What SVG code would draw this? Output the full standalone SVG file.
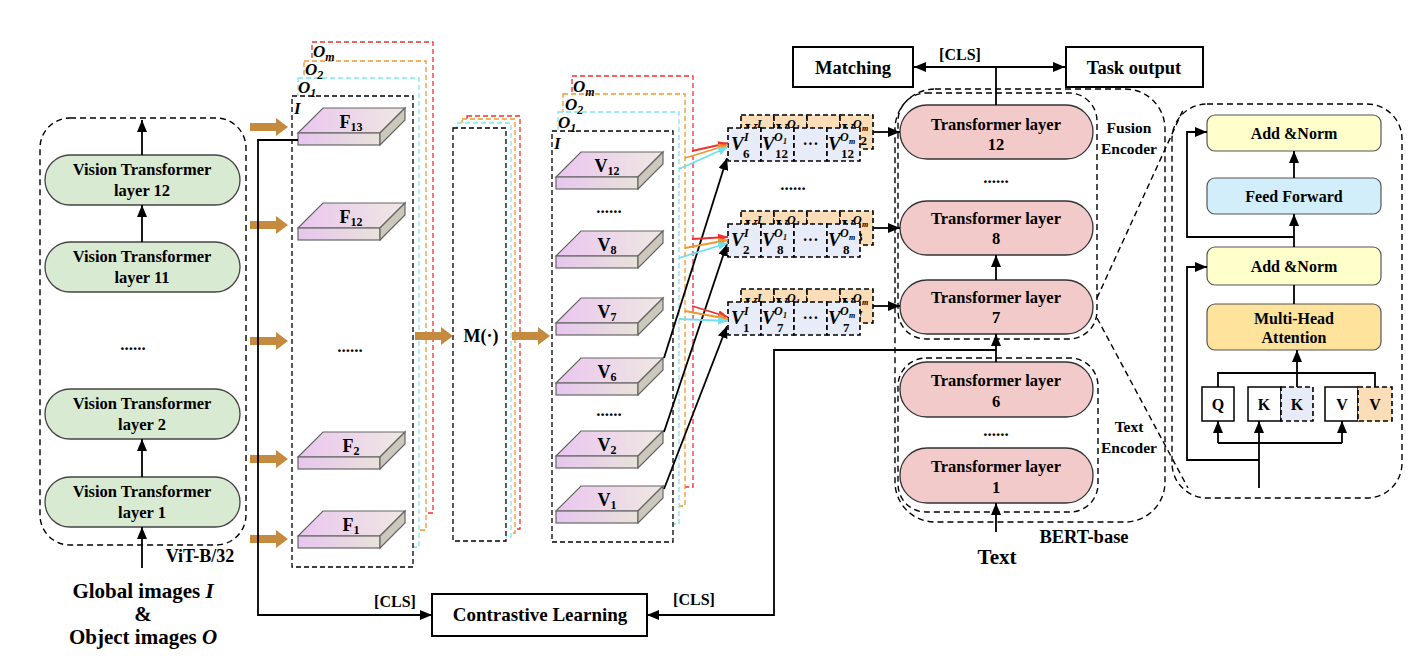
<svg xmlns="http://www.w3.org/2000/svg" xmlns:xlink="http://www.w3.org/1999/xlink" width="1420" height="660" viewBox="0 0 1420 660">
<style>
.t{font-family:"Liberation Serif","Times New Roman",serif;font-weight:bold;fill:#000;text-anchor:middle}
.ti{font-family:"Liberation Serif","Times New Roman",serif;font-weight:bold;font-style:italic;fill:#000}
.dash{fill:none;stroke:#000;stroke-width:1.4;stroke-dasharray:6 4}
.dR{fill:#fff;stroke:#F03030;stroke-width:1.3;stroke-dasharray:5 3}
.dO{fill:#fff;stroke:#F0962E;stroke-width:1.3;stroke-dasharray:5 3}
.dC{fill:#fff;stroke:#80E4F4;stroke-width:1.3;stroke-dasharray:5 3}
.dK{fill:#fff;stroke:#000;stroke-width:1.3;stroke-dasharray:5 3}
.green{fill:#D9EAD3;stroke:#444;stroke-width:1.3}
.pink{fill:#F2CACA;stroke:#333;stroke-width:1.3}
.box{fill:#fff;stroke:#000;stroke-width:2}
.ln{fill:none;stroke:#000;stroke-width:1.8}
.brown{fill:#C58A3E}
.peach{fill:#FBDDB8;stroke:#000;stroke-width:1.6;stroke-dasharray:5 3}
.lav{fill:#E8ECF8;stroke:#000;stroke-width:1.6;stroke-dasharray:5 3}
.tv{font-family:"Liberation Serif",serif;font-weight:bold;font-style:italic;font-size:19px}
.tsup{font-family:"Liberation Serif",serif;font-weight:bold;font-style:italic;font-size:12px}
.tsup2{font-family:"Liberation Serif",serif;font-weight:bold;font-style:italic;font-size:8px}
.tsub{font-family:"Liberation Serif",serif;font-weight:bold;font-size:13px}
.tdots{font-family:"Liberation Serif",serif;font-weight:bold;font-size:16px;text-anchor:middle}
.det{fill:#FFFFCC;stroke:#555;stroke-width:1.2}
</style>
<defs>
<marker id="ah" markerUnits="userSpaceOnUse" markerWidth="12" markerHeight="10" viewBox="0 0 12 10" refX="12" refY="5" orient="auto"><path d="M0,0 L12,5 L0,10 z" fill="#000"/></marker>
<marker id="aR" markerUnits="userSpaceOnUse" markerWidth="10" markerHeight="8" viewBox="0 0 10 8" refX="10" refY="4" orient="auto"><path d="M0,0 L10,4 L0,8 z" fill="#F03030"/></marker>
<marker id="aO" markerUnits="userSpaceOnUse" markerWidth="10" markerHeight="8" viewBox="0 0 10 8" refX="10" refY="4" orient="auto"><path d="M0,0 L10,4 L0,8 z" fill="#F0962E"/></marker>
<marker id="aC" markerUnits="userSpaceOnUse" markerWidth="10" markerHeight="8" viewBox="0 0 10 8" refX="10" refY="4" orient="auto"><path d="M0,0 L10,4 L0,8 z" fill="#6FE0F2"/></marker>
<linearGradient id="gTop" x1="0" y1="0" x2="1" y2="0"><stop offset="0" stop-color="#EAC6EF"/><stop offset="1" stop-color="#EEE8E2"/></linearGradient>
<linearGradient id="gFront" x1="0" y1="0" x2="1" y2="0"><stop offset="0" stop-color="#E6C6EE"/><stop offset="1" stop-color="#E9E2DA"/></linearGradient>
<g id="slab">
<polygon points="0,0 25,-25 107,-25 82,0" fill="url(#gTop)" stroke="#666" stroke-width="1.2"/>
<rect x="0" y="0" width="82" height="12" fill="url(#gFront)" stroke="#666" stroke-width="1.2"/>
<polygon points="82,0 107,-25 107,-13 82,12" fill="#CCC8BC" stroke="#666" stroke-width="1.2"/>
</g>
<path id="barrow" d="M0,-4 H26 V-9 L38,0 L26,9 V4 H0 z"/>
<g id="c6">
<text class="tv" x="3" y="22">V</text><text class="tsup" x="16" y="13">I</text><text class="tsub" x="15" y="30">6</text>
<text class="tv" x="34" y="22">V</text><text class="tsup" x="46" y="13">O</text><text class="tsup2" x="55" y="16">1</text><text class="tsub" x="47" y="30">12</text>
<text class="tdots" x="82.5" y="21">···</text>
<text class="tv" x="100" y="22">V</text><text class="tsup" x="112" y="13">O</text><text class="tsup2" x="121" y="16">m</text><text class="tsub" x="113" y="30">12</text>
</g>
<g id="c2">
<text class="tv" x="3" y="22">V</text><text class="tsup" x="16" y="13">I</text><text class="tsub" x="15" y="30">2</text>
<text class="tv" x="34" y="22">V</text><text class="tsup" x="46" y="13">O</text><text class="tsup2" x="55" y="16">1</text><text class="tsub" x="49" y="30">8</text>
<text class="tdots" x="82.5" y="21">···</text>
<text class="tv" x="100" y="22">V</text><text class="tsup" x="112" y="13">O</text><text class="tsup2" x="121" y="16">m</text><text class="tsub" x="115" y="30">8</text>
</g>
<g id="c1">
<text class="tv" x="3" y="22">V</text><text class="tsup" x="16" y="13">I</text><text class="tsub" x="15" y="30">1</text>
<text class="tv" x="34" y="22">V</text><text class="tsup" x="46" y="13">O</text><text class="tsup2" x="55" y="16">1</text><text class="tsub" x="49" y="30">7</text>
<text class="tdots" x="82.5" y="21">···</text>
<text class="tv" x="100" y="22">V</text><text class="tsup" x="112" y="13">O</text><text class="tsup2" x="121" y="16">m</text><text class="tsub" x="115" y="30">7</text>
</g>
<g id="cellsBack">
<rect class="peach" x="0" y="0" width="33" height="34"/><rect class="peach" x="33" y="0" width="33" height="34"/><rect class="peach" x="66" y="0" width="33" height="34"/><rect class="peach" x="99" y="0" width="33" height="34"/>
</g>
<g id="cellsFront">
<rect class="lav" x="0" y="0" width="33" height="33"/><rect class="lav" x="33" y="0" width="33" height="33"/><rect class="lav" x="66" y="0" width="33" height="33"/><rect class="lav" x="99" y="0" width="33" height="33"/>
</g>
</defs>
<rect width="1420" height="660" fill="#fff"/>

<!-- ViT encoder -->
<g id="vit">
<rect class="dash" x="40" y="118" width="206" height="427" rx="30"/>
<rect class="green" x="45" y="155" width="195" height="50" rx="25"/>
<text class="t" x="142" y="175" font-size="16.5">Vision Transformer</text>
<text class="t" x="142" y="196" font-size="16.5">layer 12</text>
<rect class="green" x="45" y="242" width="195" height="50" rx="25"/>
<text class="t" x="142" y="262" font-size="16.5">Vision Transformer</text>
<text class="t" x="142" y="283" font-size="16.5">layer 11</text>
<text class="t" x="133" y="350" font-size="17">......</text>
<rect class="green" x="45" y="389" width="195" height="50" rx="25"/>
<text class="t" x="142" y="409" font-size="16.5">Vision Transformer</text>
<text class="t" x="142" y="430" font-size="16.5">layer 2</text>
<rect class="green" x="45" y="477" width="195" height="50" rx="25"/>
<text class="t" x="142" y="497" font-size="16.5">Vision Transformer</text>
<text class="t" x="142" y="518" font-size="16.5">layer 1</text>
<text class="t" x="200" y="562" font-size="18">ViT-B/32</text>
</g>
<g id="input-labels">
<text class="t" x="143" y="598" font-size="21">Global images <tspan font-style="italic">I</tspan></text>
<text class="t" x="143" y="621" font-size="21">&amp;</text>
<text class="t" x="143" y="644" font-size="21">Object images <tspan font-style="italic">O</tspan></text>
</g>

<!-- F stack -->
<g id="f-stack">
<rect class="dR" x="312" y="42" width="121" height="471"/>
<rect class="dO" x="304" y="61" width="122" height="469"/>
<rect class="dC" x="298" y="78" width="121" height="469"/>
<rect class="dK" x="292" y="96" width="121" height="471"/>
<text class="ti" x="313" y="57" font-size="17">O<tspan font-size="12" dy="4">m</tspan></text>
<text class="ti" x="305" y="75" font-size="17">O<tspan font-size="12" dy="4">2</tspan></text>
<text class="ti" x="298" y="93" font-size="17">O<tspan font-size="12" dy="4">1</tspan></text>
<text class="ti" x="294" y="114" font-size="17">I</text>
<use xlink:href="#slab" x="298" y="133"/>
<text class="t" x="351" y="128" font-size="18">F<tspan font-size="12" dy="3">13</tspan></text>
<use xlink:href="#slab" x="298" y="228"/>
<text class="t" x="351" y="223" font-size="18">F<tspan font-size="12" dy="3">12</tspan></text>
<text class="t" x="350" y="352" font-size="17">......</text>
<use xlink:href="#slab" x="298" y="457"/>
<text class="t" x="351" y="452" font-size="18">F<tspan font-size="12" dy="3">2</tspan></text>
<use xlink:href="#slab" x="298" y="536"/>
<text class="t" x="351" y="531" font-size="18">F<tspan font-size="12" dy="3">1</tspan></text>
</g>

<!-- M stack -->
<g id="m-stack">
<rect class="dR" x="467" y="116" width="53" height="413"/>
<rect class="dO" x="462" y="119" width="53" height="414"/>
<rect class="dC" x="457" y="123" width="54" height="414"/>
<rect class="dK" x="453" y="128" width="53" height="413"/>
<text class="t" x="481" y="342" font-size="18">M(·)</text>
</g>

<!-- V stack -->
<g id="v-stack">
<rect class="dR" x="572" y="76" width="121" height="411"/>
<rect class="dO" x="563" y="94" width="122" height="412"/>
<rect class="dC" x="558" y="112" width="121" height="412"/>
<rect class="dK" x="552" y="131" width="121" height="411"/>
<text class="ti" x="573" y="92" font-size="17">O<tspan font-size="12" dy="4">m</tspan></text>
<text class="ti" x="565" y="110" font-size="17">O<tspan font-size="12" dy="4">2</tspan></text>
<text class="ti" x="558" y="128" font-size="17">O<tspan font-size="12" dy="4">1</tspan></text>
<text class="ti" x="554" y="149" font-size="17">I</text>
<use xlink:href="#slab" x="556" y="177"/>
<text class="t" x="607" y="172" font-size="18">V<tspan font-size="12" dy="3">12</tspan></text>
<text class="t" x="609" y="213" font-size="17">......</text>
<use xlink:href="#slab" x="556" y="256"/>
<text class="t" x="607" y="251" font-size="18">V<tspan font-size="12" dy="3">8</tspan></text>
<use xlink:href="#slab" x="556" y="323"/>
<text class="t" x="607" y="318" font-size="18">V<tspan font-size="12" dy="3">7</tspan></text>
<use xlink:href="#slab" x="556" y="383"/>
<text class="t" x="607" y="378" font-size="18">V<tspan font-size="12" dy="3">6</tspan></text>
<text class="t" x="609" y="416" font-size="17">......</text>
<use xlink:href="#slab" x="556" y="456"/>
<text class="t" x="607" y="451" font-size="18">V<tspan font-size="12" dy="3">2</tspan></text>
<use xlink:href="#slab" x="556" y="511"/>
<text class="t" x="607" y="506" font-size="18">V<tspan font-size="12" dy="3">1</tspan></text>
</g>

<!-- token rows -->
<g id="tokens-6">
<use xlink:href="#cellsBack" x="741" y="115"/><use xlink:href="#c6" x="741" y="115"/>
<use xlink:href="#cellsFront" x="728" y="128"/><use xlink:href="#c6" x="728" y="128"/>
</g>
<text class="t" x="793" y="190" font-size="17">......</text>
<g id="tokens-2">
<use xlink:href="#cellsBack" x="741" y="211"/><use xlink:href="#c2" x="741" y="211"/>
<use xlink:href="#cellsFront" x="728" y="224"/><use xlink:href="#c2" x="728" y="224"/>
</g>
<g id="tokens-1">
<use xlink:href="#cellsBack" x="741" y="289"/><use xlink:href="#c1" x="741" y="289"/>
<use xlink:href="#cellsFront" x="728" y="302"/><use xlink:href="#c1" x="728" y="302"/>
</g>

<!-- BERT -->
<g id="bert">
<rect class="dash" x="895" y="89" width="270" height="433" rx="40"/>
<rect class="dash" x="898" y="93" width="199" height="246" rx="28"/>
<rect class="dash" x="898" y="358" width="200" height="154" rx="28"/>
<text class="t" x="1129" y="133" font-size="15.5">Fusion</text>
<text class="t" x="1129" y="154" font-size="15.5">Encoder</text>
<text class="t" x="1129" y="432" font-size="15.5">Text</text>
<text class="t" x="1129" y="453" font-size="15.5">Encoder</text>
<text class="t" x="1084" y="543" font-size="18.5">BERT-base</text>
</g>
<g id="tl12"><rect class="pink" x="900" y="105" width="193" height="54" rx="27"/>
<text class="t" x="996" y="130" font-size="16.5">Transformer layer</text><text class="t" x="996" y="150" font-size="16.5">12</text></g>
<text class="t" x="996" y="183" font-size="17">......</text>
<g id="tl8"><rect class="pink" x="900" y="201" width="193" height="54" rx="27"/>
<text class="t" x="996" y="224" font-size="16.5">Transformer layer</text><text class="t" x="996" y="244" font-size="16.5">8</text></g>
<g id="tl7"><rect class="pink" x="900" y="280" width="193" height="54" rx="27"/>
<text class="t" x="996" y="303" font-size="16.5">Transformer layer</text><text class="t" x="996" y="323" font-size="16.5">7</text></g>
<g id="tl6"><rect class="pink" x="900" y="362" width="193" height="55" rx="27"/>
<text class="t" x="996" y="386" font-size="16.5">Transformer layer</text><text class="t" x="996" y="407" font-size="16.5">6</text></g>
<text class="t" x="996" y="436" font-size="17">......</text>
<g id="tl1"><rect class="pink" x="900" y="448" width="193" height="55" rx="27"/>
<text class="t" x="996" y="472" font-size="16.5">Transformer layer</text><text class="t" x="996" y="493" font-size="16.5">1</text></g>
<text class="t" x="997" y="564" font-size="21">Text</text>

<g id="matching"><rect class="box" x="793" y="47" width="120" height="40"/><text class="t" x="853" y="74" font-size="18.5">Matching</text></g>
<g id="task"><rect class="box" x="1066" y="47" width="137" height="40"/><text class="t" x="1134" y="74" font-size="18.5">Task output</text></g>
<g id="contrastive"><rect class="box" x="432" y="594" width="215" height="42"/><text class="t" x="540" y="621" font-size="19">Contrastive Learning</text></g>

<!-- detail transformer -->
<g id="detail">
<rect class="dash" x="1172" y="104" width="230" height="394" rx="35"/>
<rect class="det" x="1207" y="115" width="174" height="36" rx="8"/>
<text class="t" x="1294" y="139" font-size="16">Add &amp;Norm</text>
<rect x="1207" y="178" width="174" height="36" rx="8" fill="#D2EEFB" stroke="#555" stroke-width="1.2"/>
<text class="t" x="1294" y="202" font-size="16">Feed Forward</text>
<rect class="det" x="1207" y="247" width="174" height="38" rx="8"/>
<text class="t" x="1294" y="272" font-size="16">Add &amp;Norm</text>
<rect x="1207" y="304" width="174" height="46" rx="8" fill="#FDE39B" stroke="#555" stroke-width="1.2"/>
<text class="t" x="1294" y="324" font-size="16">Multi-Head</text>
<text class="t" x="1294" y="343" font-size="16">Attention</text>
<rect x="1202" y="387" width="32" height="34" fill="#fff" stroke="#000" stroke-width="1.5"/>
<text class="t" x="1218" y="410" font-size="16">Q</text>
<rect x="1248" y="387" width="33" height="34" fill="#fff" stroke="#000" stroke-width="1.5"/>
<text class="t" x="1264" y="410" font-size="16">K</text>
<rect class="lav" x="1281" y="387" width="32" height="34"/>
<text class="t" x="1297" y="410" font-size="16">K</text>
<rect x="1325" y="387" width="33" height="34" fill="#fff" stroke="#000" stroke-width="1.5"/>
<text class="t" x="1342" y="410" font-size="16">V</text>
<rect class="peach" x="1358" y="387" width="34" height="34"/>
<text class="t" x="1375" y="410" font-size="16">V</text>
</g>

<!-- connectors -->
<g id="connectors">
<g class="brown">
<use xlink:href="#barrow" x="250" y="127"/>
<use xlink:href="#barrow" x="250" y="225"/>
<use xlink:href="#barrow" x="250" y="341"/>
<use xlink:href="#barrow" x="250" y="459"/>
<use xlink:href="#barrow" x="250" y="539"/>
<use xlink:href="#barrow" x="415" y="336"/>
<use xlink:href="#barrow" x="512" y="336"/>
</g>
<path class="ln" d="M142,155 V120" marker-end="url(#ah)"/>
<path class="ln" d="M142,242 V205" marker-end="url(#ah)"/>
<path class="ln" d="M142,477 V439" marker-end="url(#ah)"/>
<path class="ln" d="M142,568 V527" marker-end="url(#ah)"/>
<path class="ln" d="M298,140 H258 V615 H432" marker-end="url(#ah)"/>
<text class="t" x="395" y="607" font-size="16">[CLS]</text>
<path class="ln" d="M996,350 H774 V615 H647" marker-end="url(#ah)"/>
<text class="t" x="694" y="605" font-size="16">[CLS]</text>
<path class="ln" d="M664,358 L727,158" marker-end="url(#ah)"/>
<path class="ln" d="M664,432 L727,244" marker-end="url(#ah)"/>
<path class="ln" d="M664,489 L727,326" marker-end="url(#ah)"/>
<g fill="none" stroke-width="1.8">
<path d="M692,151 L728,143" stroke="#F03030" marker-end="url(#aR)"/>
<path d="M685,158 L728,145" stroke="#F0962E" marker-end="url(#aO)"/>
<path d="M679,169 L728,147" stroke="#6FE0F2" marker-end="url(#aC)"/>
<path d="M692,239 L728,237" stroke="#F03030" marker-end="url(#aR)"/>
<path d="M685,248 L728,240" stroke="#F0962E" marker-end="url(#aO)"/>
<path d="M679,258 L728,243" stroke="#6FE0F2" marker-end="url(#aC)"/>
<path d="M692,306 L728,317" stroke="#F03030" marker-end="url(#aR)"/>
<path d="M685,311 L728,319" stroke="#F0962E" marker-end="url(#aO)"/>
<path d="M679,319 L728,321" stroke="#6FE0F2" marker-end="url(#aC)"/>
</g>
<path class="ln" d="M873,132 H900" marker-end="url(#ah)"/>
<path class="ln" d="M873,228 H900" marker-end="url(#ah)"/>
<path class="ln" d="M873,306 H900" marker-end="url(#ah)"/>
<path class="ln" d="M996,280 V255" marker-end="url(#ah)"/>
<path class="ln" d="M996,362 V334" marker-end="url(#ah)"/>
<path class="ln" d="M996,532 V503" marker-end="url(#ah)"/>
<path class="ln" d="M996,105 V67"/>
<path class="ln" d="M996,67 H914" marker-end="url(#ah)"/>
<path class="ln" d="M996,67 H1065" marker-end="url(#ah)"/>
<text class="t" x="960" y="60" font-size="16">[CLS]</text>
<path class="dash" d="M1097,298 L1183,110"/>
<path class="dash" d="M1097,318 L1188,488"/>
<path class="ln" d="M1294,304 V285"/>
<path class="ln" d="M1294,247 V214" marker-end="url(#ah)"/>
<path class="ln" d="M1294,178 V151" marker-end="url(#ah)"/>
<path class="ln" d="M1294,237 H1187 V132 H1207" marker-end="url(#ah)"/>
<path class="ln" d="M1218,387 V373 H1375 V387"/>
<path class="ln" d="M1297,387 V350" marker-end="url(#ah)"/>
<path class="ln" d="M1259,488 V421" marker-end="url(#ah)"/>
<path class="ln" d="M1218,443 H1342"/>
<path class="ln" d="M1218,443 V421" marker-end="url(#ah)"/>
<path class="ln" d="M1342,443 V421" marker-end="url(#ah)"/>
<path class="ln" d="M1259,460 H1187 V267 H1207" marker-end="url(#ah)"/>
</g>
</svg>
